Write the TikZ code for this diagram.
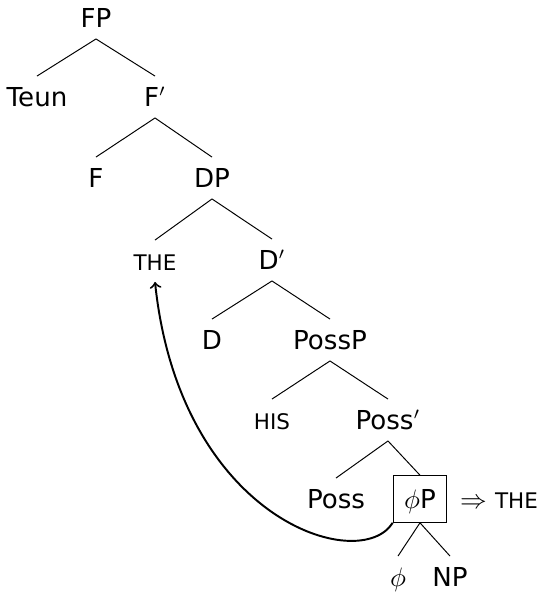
\documentclass[tikz,border=0pt]{standalone}
\usepackage{amsmath}
\usepackage{fontspec}
\setmainfont{DejaVu Sans}
\usepackage{tikz}
\usetikzlibrary{arrows}

% small caps stand-in for the lexical items
\newcommand{\lex}[1]{{\fontsize{8.8}{10}\selectfont #1}}

\tikzset{
  cat/.style={text height=1.6ex, text depth=.25ex},
  branch/.style={thin},
  movebox/.style={cat, draw, inner sep=4.5pt}
}

\begin{document}
\begin{tikzpicture}[x=0.41pt, y=-0.41pt, font=\fontsize{10.7}{13}\selectfont]

    \useasboundingbox (0,0) rectangle (540,592);

    \node[cat] at (96,18)   (fp)     {FP};
    \node[cat] at (37,97)   (teun)   {Teun};
    \node[cat] at (155,97)  (fbar)   {F$'$};

    \node[cat] at (96,178)  (f)      {F};
    \node[cat] at (212,178) (dp)     {DP};

    \node[cat] at (155,261) (the)    {\lex{THE}};
    \node[cat] at (272,260) (dbar)   {D$'$};

    \node[cat] at (212,340) (d)      {D};
    \node[cat] at (330,340) (possp)  {PossP};

    \node[cat] at (272,420) (his)    {\lex{HIS}};
    \node[cat] at (388,420) (possbar) {Poss$'$};

    \node[cat] at (336,499) (poss)   {Poss};
    \node[movebox] at (420,499) (phip) {$\phi$P};
    \node[cat] at (499,499) (spell)  {$\Rightarrow$ \lex{THE}};

    \node[cat] at (398,577) (phi)    {$\phi$};
    \node[cat] at (450,577) (np)     {NP};

    \draw[branch] (fp.south) -- (teun.north);
    \draw[branch] (fp.south) -- (fbar.north);

    \draw[branch] (fbar.south) -- (f.north);
    \draw[branch] (fbar.south) -- (dp.north);

    \draw[branch] (dp.south) -- (the.north);
    \draw[branch] (dp.south) -- (dbar.north);

    \draw[branch] (dbar.south) -- (d.north);
    \draw[branch] (dbar.south) -- (possp.north);

    \draw[branch] (possp.south) -- (his.north);
    \draw[branch] (possp.south) -- (possbar.north);

    \draw[branch] (possbar.south) -- (poss.north);
    \draw[branch] (possbar.south) -- (phip.north);

    \draw[branch] (phip.south) -- (phi.north);
    \draw[branch] (phip.south) -- (np.north);

    % movement of the determiner
    \draw[->, thick] (phip.south west) .. controls (360,575) and (180,520) .. (the.south);

\end{tikzpicture}
\end{document}
